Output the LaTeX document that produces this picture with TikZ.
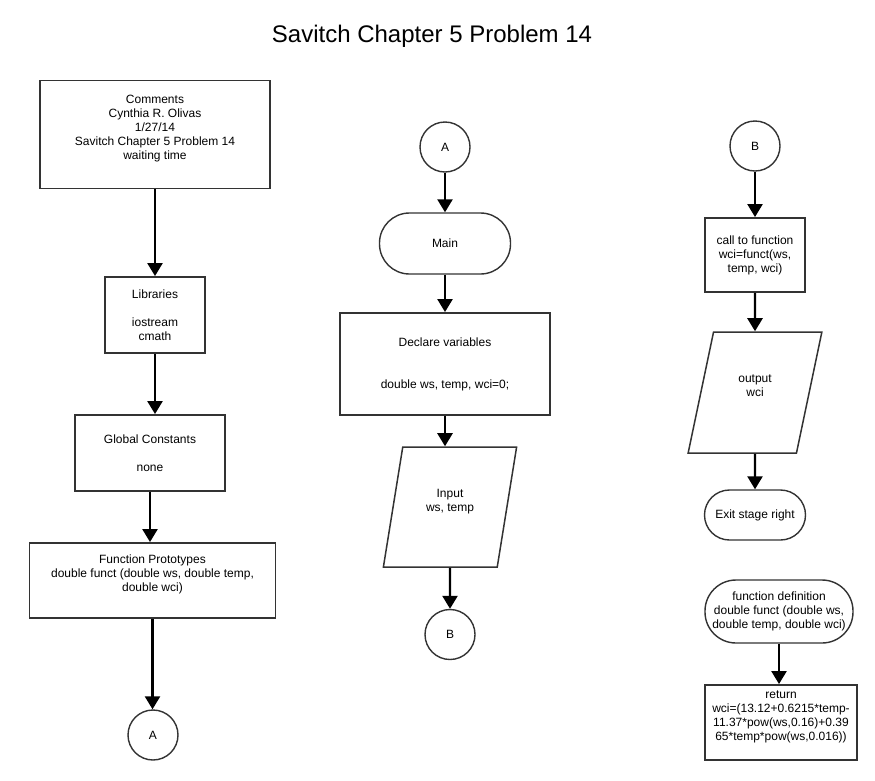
\documentclass[tikz,border=0pt]{standalone}
\usepackage{fontspec}
\setmainfont{Liberation Sans}
\usetikzlibrary{shapes.geometric,arrows.meta}
\definecolor{edgegray}{RGB}{51,51,51}
\tikzset{
  box/.style={draw=edgegray, line width=1.9pt, align=center, inner sep=1pt, font=\fontsize{12}{14}\selectfont},
  stadium/.style={box, line width=1.4pt, rounded corners=#1},
  conn/.style={draw=edgegray, line width=1.4pt, circle, minimum size=50pt, inner sep=0pt, font=\fontsize{12}{14}\selectfont},
  iobox/.style={box, line width=1.5pt, trapezium, trapezium stretches=true, minimum width=134pt},
  flow/.style={line width=2.4pt, -{Triangle[length=13pt,width=15pt]}},
}

\begin{document}
\begin{tikzpicture}[x=1pt,y=-1pt]
\useasboundingbox (0,0) rectangle (875,780);
\node (title) at (432,36) {\fontsize{24}{28}\selectfont Savitch Chapter 5 Problem 14};
\node[box, minimum width=230pt, minimum height=108pt] (com) at (155,134.5) {Comments\\Cynthia R. Olivas\\1/27/14\\Savitch Chapter 5 Problem 14\\waiting time\\{}};
\node[box, minimum width=100pt, minimum height=76pt] (lib) at (155,315) {Libraries\\[14pt]iostream\\cmath};
\node[box, minimum width=150pt, minimum height=76pt] (glob) at (150,453) {Global Constants\\[14pt]none};
\node[box, minimum width=246pt, minimum height=75pt] (proto) at (152.5,580.5) {Function Prototypes\\double funct (double ws, double temp,\\double wci)\\{}};
\node[conn] (ca) at (153,735) {A};
\node[conn] (cA) at (445,147) {A};
\node[stadium=30pt, minimum width=131pt, minimum height=61pt] (main) at (445,243.5) {Main};
\node[box, minimum width=210pt, minimum height=102pt] (decl) at (445,364) {Declare variables\\[28pt]double ws, temp, wci=0;};
\node[iobox, trapezium left angle=75, trapezium right angle=105, minimum height=120pt] (inp) at (450,507) {Input\\ws, temp\\{}};
\node[conn] (cb) at (450,634.5) {B};
\node[conn] (cB) at (755,146) {B};
\node[box, minimum width=100pt, minimum height=74pt] (call) at (755,255) {call to function\\wci=funct(ws,\\temp, wci)};
\node[iobox, trapezium left angle=74, trapezium right angle=106, minimum height=121pt] (out) at (755,392.5) {output\\wci\\{}};
\node[stadium=25pt, minimum width=101pt, minimum height=50pt] (exit) at (755,515) {Exit stage right};
\node[stadium=31pt, minimum width=148pt, minimum height=63pt] (fdef) at (779,611.5) {function definition\\double funct (double ws,\\double temp, double wci)};
\node[box, minimum width=152pt, minimum height=75pt] (ret) at (781,722.5) {return\\wci=(13.12+0.6215*temp-\\11.37*pow(ws,0.16)+0.39\\65*temp*pow(ws,0.016))\\{}};
\draw[flow] (com) -- (lib);
\draw[flow] (lib.south) -- (lib.south |- glob.north);
\draw[flow] (glob.south) -- (glob.south |- proto.north);
\draw[flow] (proto.south) -- (proto.south |- ca.north);
\draw[flow] (cA) -- (main);
\draw[flow] (main) -- (decl);
\draw[flow] (decl.south) -- (decl.south |- inp.north);
\draw[flow] (inp) -- (cb);
\draw[flow] (cB) -- (call);
\draw[flow] (call) -- (out);
\draw[flow] (out) -- (exit);
\draw[flow] (fdef) -- (fdef |- ret.north);
\end{tikzpicture}
\end{document}
